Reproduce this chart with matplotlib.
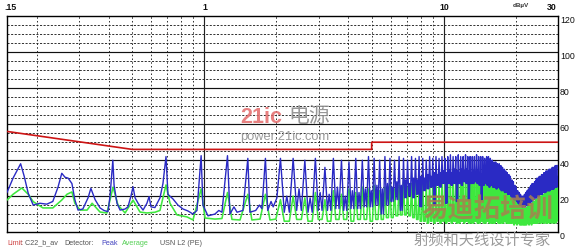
import numpy as np
import matplotlib
matplotlib.use("Agg")
import matplotlib.pyplot as plt

plt.rcParams['lines.scale_dashes'] = False

# ---------------- data ----------------
# limit line (C22 class B average)
limit_f = [0.15, 0.5, 5.0, 5.0, 30.0]
limit_db = [56, 46, 46, 50, 50]

# peak trace, low-frequency part (MHz, dBuV)
peak_left_f = [0.150, 0.159, 0.171, 0.177, 0.184, 0.193, 0.206, 0.220, 0.233, 0.245,
               0.254, 0.262, 0.270, 0.280, 0.288, 0.297, 0.311, 0.327, 0.336, 0.350,
               0.367, 0.381, 0.396, 0.404, 0.415, 0.420, 0.432, 0.445, 0.467, 0.480,
               0.494, 0.504, 0.514, 0.529, 0.555, 0.576, 0.588, 0.599, 0.622, 0.653,
               0.672, 0.692, 0.705, 0.740, 0.776, 0.815, 0.855, 0.897, 0.932, 0.970,
               0.987, 1.036, 1.108, 1.150, 1.185, 1.250, 1.280, 1.330, 1.370, 1.450,
               1.520, 1.550, 1.640, 1.700, 1.740, 1.800, 1.840, 1.900, 1.940, 2.010]
peak_left_db = [22, 30, 38, 31, 21.5, 15, 16, 15.5, 17, 25,
                32.7, 30.5, 30, 27, 18, 12.2, 12.8, 19, 24.3, 18,
                13.4, 12, 11.3, 20, 40, 26, 16, 12.2, 12.8, 14,
                20, 25.2, 19, 16, 12.2, 16, 19.7, 14, 13.6, 19,
                27, 42, 21, 18.4, 15, 12.8, 11.7, 10, 12, 42.5,
                15, 9, 10, 12, 11, 42.5, 10, 14, 11, 12,
                41, 11, 12, 15, 13, 41, 12, 17, 14, 19]

# average trace, low-frequency part
avg_left_f = [0.150, 0.159, 0.173, 0.184, 0.193, 0.212, 0.233, 0.254, 0.267, 0.280,
              0.288, 0.303, 0.324, 0.340, 0.367, 0.392, 0.416, 0.436, 0.467, 0.504,
              0.539, 0.576, 0.622, 0.653, 0.692, 0.719, 0.769, 0.847, 0.897, 0.970,
              1.007, 1.108, 1.185, 1.250, 1.305, 1.410, 1.520, 1.580, 1.710, 1.800,
              1.880, 1.990]
avg_left_db = [17.8, 21, 24.5, 21, 16.9, 13.4, 13.4, 17.8, 21, 22.3,
               16, 12.2, 12.2, 16, 11.1, 10.6, 25, 15, 10.6, 17.8,
               11.1, 10.6, 11, 12, 26.2, 16, 9.5, 8.4, 6.7, 24,
               7.8, 7.2, 7.5, 22, 7, 6.7, 21, 6.7, 7.2, 21,
               6.7, 7.2]

# harmonic emission lines above 2 MHz (MHz)
harm_f = [2.08, 2.35, 2.63, 2.91, 3.19, 3.46, 3.74, 4.02, 4.29, 4.57,
          4.85, 5.12, 5.40, 5.68, 5.96, 6.23, 6.51, 6.79, 7.06, 7.34,
          7.62, 7.89, 8.17, 8.45, 8.73, 9.00, 9.28, 9.56, 9.83, 10.11,
          10.39, 10.66, 10.94, 11.22, 11.50, 11.77, 12.05, 12.33, 12.60, 12.88,
          13.16, 13.43, 13.71, 13.99, 14.27, 14.54, 14.82, 15.10, 15.37, 15.65,
          15.93, 16.20, 16.48, 16.76, 17.04, 17.31, 17.59, 17.87, 18.14, 18.42,
          18.70, 18.97, 19.25, 19.53, 19.81, 20.08, 20.36, 20.64, 20.91, 21.19,
          21.47, 21.74, 22.02, 22.30, 22.58, 22.85, 23.13, 23.41, 23.68, 23.96,
          24.24, 24.51, 24.79, 25.07, 25.35, 25.62, 25.90, 26.18, 26.45, 26.73,
          27.01, 27.28, 27.56, 27.84, 28.12, 28.39, 28.67, 28.95, 29.22, 29.50,
          29.78]

# peak detector level at each harmonic
peak_top = [41, 41, 40, 41, 36, 41, 40, 39, 41, 40,
            42, 41, 40, 42, 41, 40, 42, 41, 40, 42,
            41, 42, 41, 40, 42, 41, 42, 41, 42, 41,
            42, 43, 42, 42, 43, 42, 42, 43, 42, 42,
            42, 42, 43, 42, 42, 42, 41, 42, 42, 41,
            40, 39, 39, 38, 38, 37, 36, 35, 34, 33,
            32, 31, 29, 28, 26, 25, 23, 22, 21, 20,
            20, 21, 22, 23, 24, 25, 26, 27, 27, 28,
            29, 30, 30, 31, 31, 32, 32, 33, 33, 34,
            34, 34, 35, 35, 35, 36, 36, 36, 37, 37,
            37]
# peak detector floor between harmonics
peak_floor = [11, 12, 11, 12, 12, 13, 12, 13, 13, 14,
              14, 15, 10, 15, 17, 18, 12, 19, 20, 19,
              21, 14, 23, 24, 25, 15, 26, 25, 27, 16,
              27, 26, 27, 17, 27, 26, 28, 27, 18, 27,
              27, 28, 27, 26, 18, 26, 27, 26, 25, 26,
              25, 25, 24, 25, 24, 23, 23, 22, 22, 21,
              21, 20, 19, 18, 18, 17, 16, 15, 15, 14,
              14, 14, 15, 15, 16, 16, 17, 18, 18, 19,
              19, 20, 20, 21, 21, 21, 22, 22, 22, 23,
              23, 23, 23, 24, 24, 24, 24, 25, 25, 25]
# smaller in-between lines of the peak trace
peak_mid = [20, 24, 19, 22, 21, 25, 20, 23, 22, 24,
            23, 26, 24, 27, 25, 28, 26, 29, 27, 30,
            29, 31, 30, 32, 31, 33, 32, 33, 34, 33,
            34, 33, 35, 34, 33, 35, 34, 35, 34, 33,
            34, 33, 34, 33, 32, 33, 32, 31, 32, 31,
            30, 30, 29, 29, 28, 28, 27, 26, 26, 25,
            24, 23, 22, 21, 21, 20, 19, 18, 18, 17,
            17, 17, 18, 19, 20, 21, 22, 23, 23, 24,
            24, 25, 25, 26, 26, 27, 27, 28, 28, 28,
            29, 29, 29, 30, 30, 30, 31, 31, 31, 31]

# average detector level at each harmonic
avg_top = [18, 20, 19, 22, 18, 23, 21, 24, 22, 25,
           24, 26, 23, 25, 27, 24, 26, 28, 25, 27,
           28, 27, 29, 28, 29, 28, 29, 30, 29, 30,
           30, 29, 30, 30, 29, 30, 29, 29, 28, 29,
           28, 28, 29, 28, 27, 28, 27, 27, 26, 27,
           26, 26, 25, 26, 25, 25, 24, 24, 23, 23,
           22, 22, 21, 20, 19, 18, 17, 16, 15, 14,
           13, 13, 13, 14, 14, 15, 15, 16, 17, 17,
           18, 18, 19, 19, 20, 20, 21, 21, 22, 22,
           22, 23, 23, 23, 24, 24, 24, 25, 25, 25,
           25]
# average detector floor between harmonics
avg_floor = [6, 7, 6, 7, 6, 7, 7, 6, 7, 7,
             6, 7, 7, 8, 8, 9, 9.5, 9.5, 9, 8,
             7, 6, 6, 5, 6, 5, 6, 5, 6, 5,
             6, 5, 6, 5, 5, 6, 5, 6, 5, 5,
             5, 6, 5, 5, 6, 5, 5, 6, 5, 5,
             5, 5, 6, 5, 5, 5, 5, 6, 5, 5,
             5, 5, 5, 4, 5, 4, 5, 4, 4, 4,
             4, 4, 4, 5, 4, 5, 4, 5, 5, 5,
             5, 5, 6, 5, 5, 6, 5, 5, 6, 5,
             5, 6, 5, 6, 5, 6, 5, 6, 5, 6]

x_tick_vals = [0.15, 1, 10, 30]
x_tick_labels = ['.15', '1', '10', '30']
y_tick_vals = [0, 20, 40, 60, 80, 100, 120]
y_tick_labels = ['0', '20', '40', '60', '80', '100', '120']


# ---------------- build traces ----------------
def build_trace(left_f, left_db, hf, top, floor, mid=None):
    f = list(left_f)
    d = list(left_db)
    for i in range(len(hf)):
        f.append(hf[i])
        d.append(top[i])
        if i < len(hf) - 1:
            a, b = np.log10(hf[i]), np.log10(hf[i + 1])
            if mid is None:
                pts = ((0.3, floor[i]), (0.7, floor[i]))
            else:
                pts = ((0.3, floor[i]), (0.5, mid[i]), (0.7, floor[i]))
            for frac, val in pts:
                f.append(10 ** (a + (b - a) * frac))
                d.append(val)
    return np.array(f), np.array(d)


pk_f, pk_d = build_trace(peak_left_f, peak_left_db, harm_f, peak_top, peak_floor, peak_mid)
av_f, av_d = build_trace(avg_left_f, avg_left_db, harm_f, avg_top, avg_floor)

# ---------------- figure ----------------
W, H = 575, 249
fig = plt.figure(figsize=(W / 100, H / 100), dpi=100)
fig.patch.set_facecolor('white')
ax_l, ax_r, ax_t, ax_b = 7, 558, 16.5, 232
ax = fig.add_axes([ax_l / W, 1 - ax_b / H, (ax_r - ax_l) / W, (ax_b - ax_t) / H])
ax.set_xscale('log')
ax.set_xlim(0.15, 30)
ax.set_ylim(0, 120)
ax.set_xticks([])
ax.set_yticks([])
ax.xaxis.set_minor_locator(matplotlib.ticker.NullLocator())

# grid
for v in range(5, 120, 5):
    if v % 20 == 0:
        ax.axhline(v, color='#111111', lw=0.85, zorder=1)
    else:
        ax.axhline(v, color='#222222', lw=0.65, ls=(0, (1.5, 1.1)), zorder=1)
for dec in (0.1, 1, 10):
    for m in range(1, 10):
        fv = dec * m
        if fv <= 0.15 or fv >= 30:
            continue
        if m == 1:
            ax.axvline(fv, color='#222222', lw=0.85, zorder=1)
        else:
            ax.axvline(fv, color='#222222', lw=0.65, ls=(0, (1.1, 1.6)), zorder=1)

ax.plot(av_f, av_d, color='#3ee83e', lw=1.15, zorder=3)
ax.plot(pk_f, pk_d, color='#2a2ac4', lw=1.0, zorder=4)
ax.plot(limit_f, limit_db, color='#cc1414', lw=1.2, zorder=5)

for s in ax.spines.values():
    s.set_color('black')
    s.set_linewidth(1.0)

# tick labels
xt = ax.get_xaxis_transform()
for v, lab in zip(x_tick_vals, x_tick_labels):
    if lab == '.15':
        ha, dx = 'center', 3
    elif lab == '30':
        ha, dx = 'right', -1
    else:
        ha, dx = 'center', 1
    ax.annotate(lab, xy=(v, 1), xycoords=xt, xytext=(dx, 8.5), textcoords='offset pixels',
                ha=ha, va='center', fontsize=6.3, fontweight='bold',
                family='Liberation Sans', color='#111111')
yt = ax.get_yaxis_transform()
for v, lab in zip(y_tick_vals, y_tick_labels):
    ax.annotate(lab, xy=(1, v), xycoords=yt, xytext=(2, -4), textcoords='offset pixels',
                ha='left', va='center', fontsize=6.3, family='Liberation Sans',
                color='#111111')

def px(x, y):
    return x / W, 1 - y / H

fig.text(*px(513, 5.5), 'dBµV', fontsize=4.6, family='Liberation Sans',
         fontweight='bold', color='#333333', ha='left', va='center')

# legend line at the bottom
leg_y = 243
lf = dict(fontsize=5.2, family='Liberation Sans', va='center')
fig.text(*px(7, leg_y), 'Limit', color='#d04545', **lf)
fig.text(*px(21, leg_y), ': C22_b_av', color='#555555', **lf)
fig.text(*px(64, leg_y), 'Detector:', color='#555555', **lf)
fig.text(*px(101, leg_y), 'Peak', color='#4444c0', **lf)
fig.text(*px(122, leg_y), 'Average', color='#55d055', **lf)
fig.text(*px(160, leg_y), 'USN L2 (PE)', color='#555555', **lf)

# watermarks
fig.text(*px(240, 117), '21ic', fontsize=15.5, family='Liberation Sans', fontweight='bold',
         color='#e36a6a', alpha=0.85, ha='left', va='center', zorder=10)
fig.text(*px(288, 116), '电源', fontsize=15, family=['Noto Sans CJK SC', 'DejaVu Sans'],
         color='#8c8c8c', alpha=0.9, ha='left', va='center', zorder=10)
fig.text(*px(240, 137), 'power.21ic.com', fontsize=9.3, family='Liberation Sans',
         color='#9a9a9a', ha='left', va='center', zorder=10)
fig.text(*px(421, 210), '易迪拓培训', fontsize=19, fontweight='bold',
         family=['Noto Sans CJK SC', 'DejaVu Sans'], color='#a8804f', alpha=0.85,
         ha='left', va='center', zorder=10)
fig.text(*px(414, 240), '射频和天线设计专家', fontsize=11,
         family=['Noto Sans CJK SC', 'DejaVu Sans'], color='#9a9a9a',
         ha='left', va='center', zorder=10)

fig.savefig('out.png', dpi=100)
